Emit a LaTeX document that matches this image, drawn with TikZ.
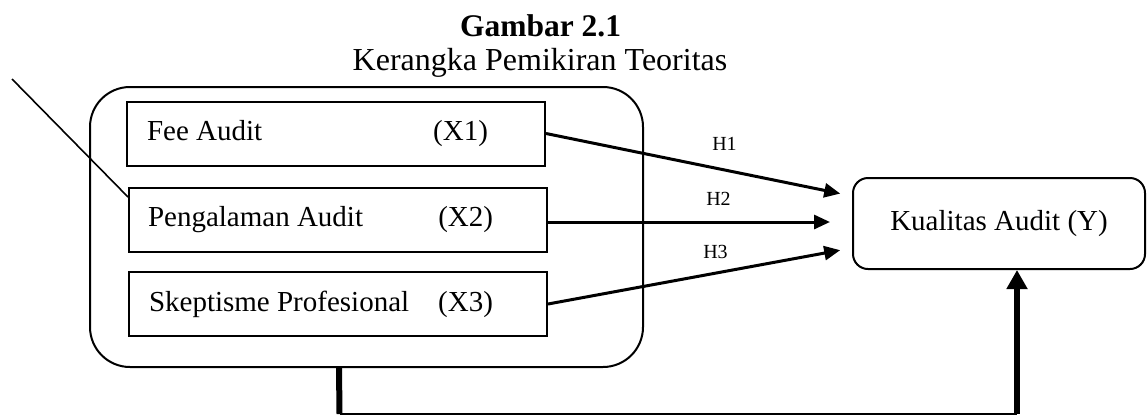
\documentclass[tikz,border=0pt]{standalone}
\usepackage{fontspec}
\setmainfont{Liberation Serif}
\usetikzlibrary{arrows.meta,calc}
\begin{document}
\begin{tikzpicture}[x=1pt,y=-1pt,
  body/.style={font=\fontsize{29}{34}\selectfont},
  varbox/.style={draw,line width=2pt,inner sep=0pt,minimum width=418pt,minimum height=64pt,body},
  grpbox/.style={draw,line width=2pt,rounded corners=40pt,minimum width=553pt,minimum height=280pt,inner sep=0pt},
  ybox/.style={draw,line width=2pt,rounded corners=15pt,minimum width=292pt,minimum height=91pt,inner sep=0pt,body},
  harrow/.style={line width=3pt,-{Triangle[length=16pt,width=14pt]}},
  hlabel/.style={font=\fontsize{20}{24}\selectfont,anchor=base},
  thickline/.style={line width=6pt},
  thinline/.style={line width=2pt}
]
\useasboundingbox (0,0) rectangle (1147,416);
% title
\node[anchor=base,font=\fontsize{31.5}{36}\selectfont\bfseries] (t1) at (540.5,36) {Gambar 2.1};
\node[anchor=base,font=\fontsize{32}{36}\selectfont] (t2) at (540,70) {Kerangka Pemikiran Teoritas};
% group
\node[grpbox] (grp) at (366.5,227) {};
\node[varbox] (x1) at (336,133.5) {\makebox[418pt][l]{\hspace{20pt}Fee Audit\hfill(X1)\hspace{57pt}}};
\node[varbox] (x2) at (338,220) {\makebox[418pt][l]{\hspace{19pt}Pengalaman Audit\hfill(X2)\hspace{54pt}}};
\node[varbox] (x3) at (338,304) {\makebox[418pt][l]{\hspace{20pt}Skeptisme Profesional\hfill(X3)\hspace{54pt}}};
% dependent
\node[ybox] (ky) at (999,223.5) {\raisebox{7pt}{Kualitas Audit (Y)}};
% arrows
\draw[harrow,shorten >=12pt] (x1.east) -- ([yshift=27.5pt]ky.west);
\draw[harrow,shorten >=22pt] ([yshift=-2pt]x2.east) -- ([yshift=-2pt]x2.east -| ky.west);
\draw[harrow,shorten >=12pt] (x3.east) -- ([yshift=-24.5pt]ky.west);
\node[hlabel] (h1) at (724.5,150) {H1};
\node[hlabel] (h2) at (718.5,205) {H2};
\node[hlabel] (h3) at (715.5,258) {H3};
% diagonal line
\coordinate (d0) at (12,79);
\draw[line width=1.6pt] (d0) -- ([yshift=-10pt]x2.north west);
% bottom connector
\coordinate (c1) at (339.5,414);
\coordinate (c2) at (1017,414);
\draw[thickline] ([xshift=-27.5pt]grp.south) -- (c1);
\draw[thinline] (c1) -- (c2);
\draw[thickline,-{Triangle[length=19pt,width=20pt]}] (c2) -- (c2 |- ky.south);
\end{tikzpicture}
\end{document}
